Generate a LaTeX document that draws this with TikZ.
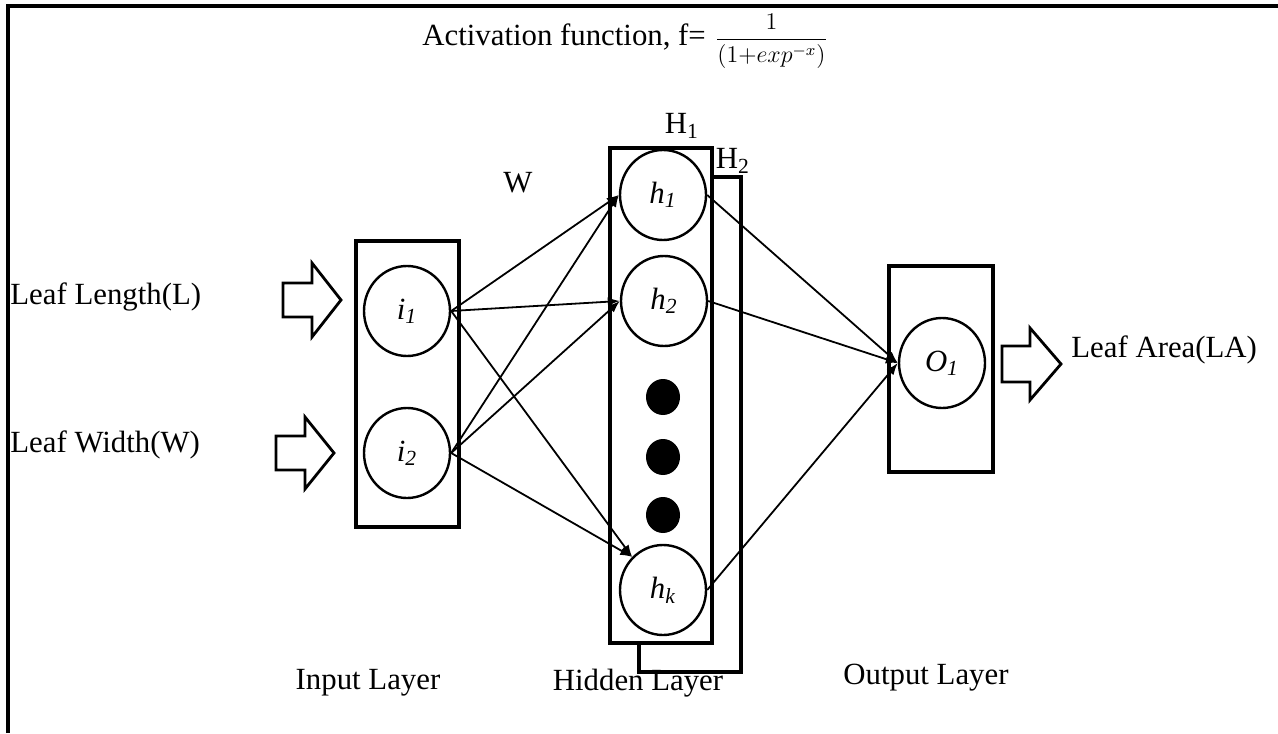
\documentclass[tikz,border=0pt]{standalone}
\usepackage{fontspec}
\setmainfont{Liberation Serif}
\usetikzlibrary{shapes.geometric,arrows.meta}
\newcommand{\nlab}[2]{\textit{#1}\textsubscript{\textit{#2}}}
\begin{document}
\begin{tikzpicture}[x=0.5pt,y=-0.5pt,
  every node/.style={font=\fontsize{15.4}{18}\selectfont},
  layerbox/.style={draw,line width=1.7pt,inner sep=0,minimum width=51.5pt},
  neuron/.style={draw,ellipse,line width=1.2pt,minimum width=43pt,minimum height=45pt,inner sep=0,fill=white},
  dotnode/.style={fill=black,ellipse,minimum width=17pt,minimum height=18pt,inner sep=0},
  conn/.style={line width=0.9pt,-{Latex[length=6pt,width=4.5pt]}},
  bigarrow/.style={line width=1.4pt,fill=white,line join=miter},
  frame/.style={line width=1.6pt}]
\useasboundingbox (0,0) rectangle (1278,733);
\draw[frame] (8,733) -- (8,6) -- (1278,6);

% title
\node[anchor=west,inner sep=0] (title) at (422,41) {Activation function, f=\hspace{0.3em}{\fontsize{12}{14}\selectfont$\displaystyle\frac{1}{(1{+}exp^{-x})}$}};

% boxes
\node[layerbox,minimum height=143pt] (inbox) at (407.5,384) {};
\node[layerbox,minimum width=51pt,minimum height=247.5pt] (h2box) at (690,424.5) {};
\node[layerbox,minimum width=51pt,minimum height=247.5pt,fill=white] (h1box) at (661,395.5) {};
\node[layerbox,minimum width=52pt,minimum height=103pt] (outbox) at (941,369) {};

\node (lH1) at (682,126) {H\textsubscript{1}};
\node (lH2) at (733,161) {H\textsubscript{2}};
\node (lW) at (518,183) {W};

% neurons
\node[neuron] (i1) at (407,311) {\nlab{i}{1}};
\node[neuron] (i2) at (407,453) {\nlab{i}{2}};
\node[neuron] (h1) at (663,195) {\nlab{h}{1}};
\node[neuron] (h2) at (664,301) {\nlab{h}{2}};
\node[neuron] (hk) at (663,590) {\nlab{h}{k}};
\node[neuron] (o1) at (942,363) {\nlab{O}{1}};
\node[dotnode] (d1) at (663,397) {};
\node[dotnode] (d2) at (663,457) {};
\node[dotnode] (d3) at (663,515) {};

% connectors
\draw[conn] (i1.east) -- (h1.west);
\draw[conn] (i1.east) -- (h2.west);
\draw[conn] (i1.east) -- (hk.133);
\draw[conn] (i2.east) -- (h1.west);
\draw[conn] (i2.east) -- (h2.west);
\draw[conn] (i2.east) -- (hk.133);
\draw[conn] (h1.east) -- (o1.west);
\draw[conn] (h2.east) -- (o1.west);
\draw[conn] (hk.east) -- (o1.west);

% block arrows
\draw[bigarrow] (283,283) -- (312,283) -- (312,263) -- (341,300) -- (312,337) -- (312,317) -- (283,317) -- cycle;
\draw[bigarrow] (276,436) -- (305,436) -- (305,417) -- (334,453) -- (305,489) -- (305,470) -- (276,470) -- cycle;
\draw[bigarrow] (1002,346) -- (1030,346) -- (1030,328) -- (1061,364) -- (1030,400) -- (1030,382) -- (1002,382) -- cycle;

% labels
\node[anchor=west,inner sep=0] (lL) at (10,297) {Leaf Length(L)};
\node[anchor=west,inner sep=0] (lWd) at (10,445) {Leaf Width(W)};
\node[anchor=west,inner sep=0] (lLA) at (1071,350) {Leaf Area(LA)};
\node (lin) at (368,683) {Input Layer};
\node (lhid) at (638,683) {Hidden Layer};
\node (lout) at (926,678) {Output Layer};
\end{tikzpicture}
\end{document}
